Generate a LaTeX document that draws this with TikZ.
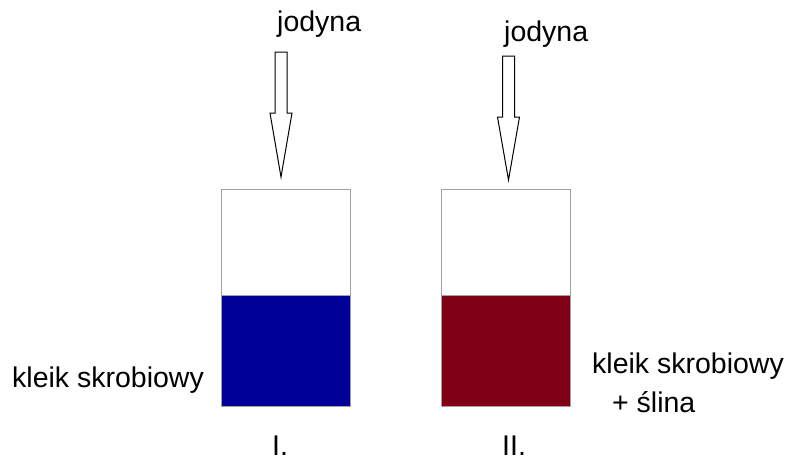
\documentclass[tikz,border=0pt]{standalone}
\usepackage{fontspec}
\setmainfont{Liberation Sans}
\definecolor{starch}{RGB}{0,0,153}
\definecolor{saliva}{RGB}{128,0,24}
\definecolor{rim}{RGB}{160,160,160}
\begin{document}
\begin{tikzpicture}[x=1pt,y=1pt,
  lbl/.style={inner sep=0pt,anchor=base west,font=\fontsize{28.5}{34}\selectfont},
  half/.style={draw=rim,line width=1.2pt,minimum width=129pt,minimum height=106pt,inner sep=0pt,anchor=north west},
  blockarrow/.style={draw=black,line width=1pt,fill=white,line join=miter}]
\useasboundingbox (0,0) rectangle (788,-464);
% arrows
\newcommand{\jodarrow}[3]{%
  \draw[blockarrow] (#1-6,-#2) -- (#1+6,-#2) -- (#1+6,-#2-61) -- (#1+11,-#2-61)
    -- (#1,-#3) -- (#1-11,-#2-61) -- (#1-6,-#2-61) -- cycle;}
\jodarrow{281}{52}{177}
\jodarrow{508.5}{56}{180}
% boxes
\node[half,fill=white] (topA) at (221,-189) {};
\node[half,fill=starch,minimum height=111pt] (botA) at (221,-295) {};
\node[half,fill=white] (topB) at (441,-189) {};
\node[half,fill=saliva,minimum height=111pt] (botB) at (441,-295) {};
% labels
\node[lbl] (j1) at (277,-31) {jodyna};
\node[lbl] (j2) at (504,-41) {jodyna};
\node[lbl] (k1) at (12,-387) {kleik skrobiowy};
\node[lbl] (k2) at (592,-373) {kleik skrobiowy};
\node[lbl] (s2) at (612,-412) {+ ślina};
\node[lbl] (n1) at (272,-455) {I.};
\node[lbl] (n2) at (502,-455) {II.};
\end{tikzpicture}
\end{document}
